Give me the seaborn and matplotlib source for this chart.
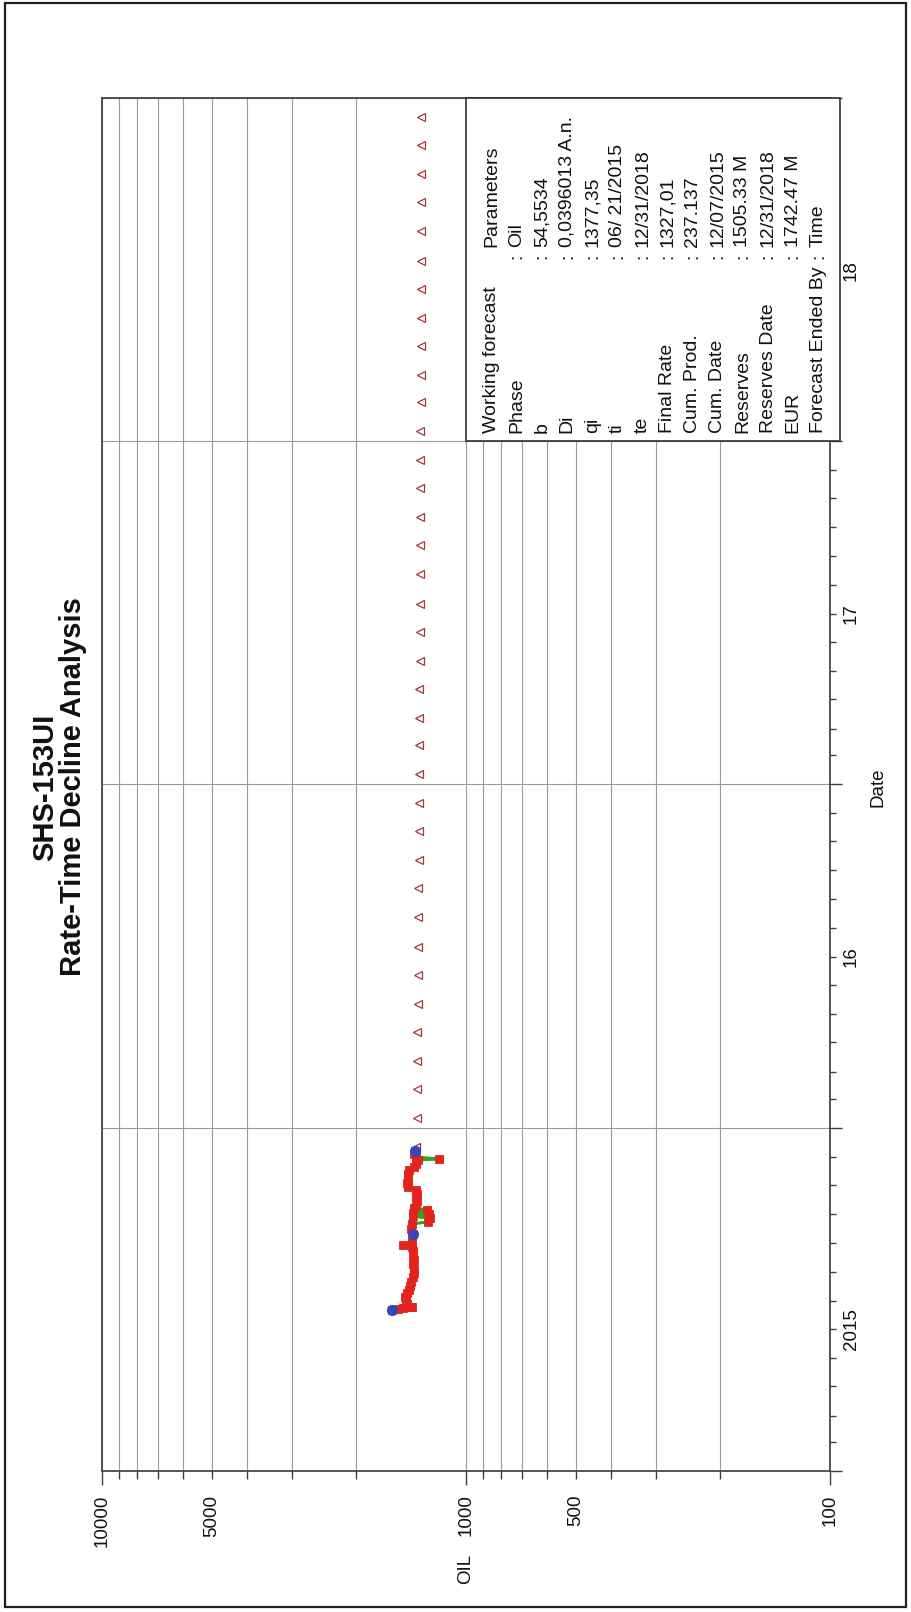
import numpy as np
import pandas as pd
import matplotlib
matplotlib.use("Agg")
import matplotlib.pyplot as plt
import matplotlib.dates as mdates
from matplotlib.ticker import FixedLocator, FuncFormatter, NullFormatter
from matplotlib.patches import Rectangle
from matplotlib.transforms import blended_transform_factory
import seaborn as sns

# ---------------- data ----------------
# daily oil rate history
prod_dates = [
    "2015-06-21", "2015-06-22", "2015-06-23", "2015-06-24", "2015-06-25",
    "2015-06-28", "2015-07-01", "2015-07-05", "2015-07-09", "2015-07-13",
    "2015-07-17", "2015-07-21", "2015-07-26", "2015-07-31", "2015-08-04",
    "2015-08-09", "2015-08-13", "2015-08-18", "2015-08-23", "2015-08-27",
    "2015-08-29", "2015-08-31", "2015-09-04", "2015-09-10", "2015-09-16",
    "2015-09-21", "2015-09-23", "2015-09-27", "2015-09-29", "2015-10-01",
    "2015-10-03", "2015-10-06", "2015-10-08", "2015-10-11", "2015-10-15",
    "2015-10-19", "2015-10-23", "2015-10-27", "2015-10-30", "2015-11-03",
    "2015-11-08", "2015-11-13", "2015-11-17", "2015-11-20", "2015-11-24",
    "2015-11-28", "2015-11-29", "2015-12-01", "2015-12-04", "2015-12-07",
]
prod_rates = [
    1597, 1538, 1490, 1425, 1407,
    1452, 1462, 1471, 1452, 1434,
    1425, 1416, 1398, 1389, 1389,
    1398, 1389, 1398, 1398, 1407,
    1490, 1407, 1407, 1398, 1416,
    1407, 1272, 1256, 1398, 1264,
    1398, 1279, 1389, 1372, 1363,
    1372, 1363, 1372, 1443, 1452,
    1443, 1443, 1434, 1389, 1372,
    1354, 1186, 1372, 1389, 1380,
]
# highlighted history points
pick_dates = ["2015-06-21", "2015-09-10", "2015-12-07"]
pick_rates = [1597, 1398, 1380]

# working forecast, one point per month
fc_dates = pd.date_range("2015-12-01", "2018-12-01", freq="MS") + pd.Timedelta(days=11)
fc_rates = [
    1370, 1367, 1364, 1362, 1360, 1358, 1356, 1354, 1353, 1351,
    1350, 1348, 1347, 1346, 1345, 1343, 1342, 1341, 1340, 1339,
    1338, 1337, 1336, 1335, 1334, 1334, 1333, 1332, 1331, 1331,
    1330, 1329, 1329, 1328, 1328, 1327, 1327,
]

oil_major = [100, 1000, 10000]
oil_minor = [200, 300, 400, 500, 600, 700, 800, 900,
             2000, 3000, 4000, 5000, 6000, 7000, 8000, 9000]
oil_labels = {100: "100", 500: "500", 1000: "1000", 5000: "5000", 10000: "10000"}
year_labels = {2015: "2015", 2016: "16", 2017: "17", 2018: "18"}

param_names = ["Working forecast", "Phase", "b", "Di", "qi", "ti", "te",
               "Final Rate", "Cum. Prod.", "Cum. Date", "Reserves",
               "Reserves Date", "EUR", "Forecast Ended By"]
param_values = ["Parameters", "Oil", "54,5534", "0,0396013 A.n.", "1377,35",
                "06/ 21/2015", "12/31/2018", "1327,01", "237.137",
                "12/07/2015", "1505.33 M", "12/31/2018", "1742.47 M", "Time"]

title = "SHS-153UI"
subtitle = "Rate-Time Decline Analysis"

# ---------------- style ----------------
sns.set_theme(style="white")
plt.rcParams["font.family"] = ["Liberation Sans", "DejaVu Sans"]

W, H = 912, 1612
fig = plt.figure(figsize=(W / 100, H / 100), dpi=100)
fig.patch.set_facecolor("white")


def fx(px):
    return px / W


def fy(py):
    return 1 - py / H


AX_L, AX_R, AX_T, AX_B = 102, 830, 98, 1471
ax = fig.add_axes([fx(AX_L), fy(AX_B), (AX_R - AX_L) / W, (AX_B - AX_T) / H])
ax.set_facecolor("white")
ax.set_xscale("log")

df_prod = pd.DataFrame({"date": pd.to_datetime(prod_dates), "rate": prod_rates})
df_pick = pd.DataFrame({"date": pd.to_datetime(pick_dates), "rate": pick_rates})
df_fc = pd.DataFrame({"date": fc_dates, "rate": fc_rates})

sns.lineplot(data=df_prod, x="rate", y="date", sort=False, estimator=None,
             color="#2aa52a", lw=2.2, ax=ax, zorder=3)
sns.lineplot(data=df_prod, x="rate", y="date", sort=False, estimator=None,
             color="#e3241c", ls="", marker="s", ms=5.8, mec="#e3241c",
             mew=0.6, ax=ax, zorder=4)
sns.lineplot(data=df_pick, x="rate", y="date", sort=False, estimator=None,
             color="#3548b5", ls="", marker="o", ms=7.4, mec="#3548b5",
             mew=0.6, ax=ax, zorder=5)
sns.lineplot(data=df_fc, x="rate", y="date", sort=False, estimator=None,
             color="#9c3a3a", ls="", marker="<", ms=6, mfc="none",
             mec="#9c3a3a", mew=0.9, ax=ax, zorder=4)

ax.set_xlim(10000, 100)
y0, y1 = pd.Timestamp("2015-01-01"), pd.Timestamp("2019-01-01")
ax.set_ylim(y0, y1)
ax.set_xlabel("")
ax.set_ylabel("")

# OIL axis (log, decreasing to the right)
ax.xaxis.set_major_locator(FixedLocator(oil_major))
ax.xaxis.set_minor_locator(FixedLocator(oil_minor))
ax.xaxis.set_major_formatter(FuncFormatter(lambda v, p: oil_labels.get(int(round(v)), "")))
ax.xaxis.set_minor_formatter(FuncFormatter(lambda v, p: oil_labels.get(int(round(v)), "")))

# Date axis on the right: yearly grid, monthly ticks, year names mid-year
ax.yaxis.tick_right()
ax.yaxis.set_major_locator(mdates.YearLocator())
ax.yaxis.set_minor_locator(mdates.MonthLocator())
ax.yaxis.set_major_formatter(NullFormatter())


def year_fmt(v, pos):
    d = mdates.num2date(v)
    if d.year == 2015 and d.month == 6:
        return year_labels[2015]
    if d.year > 2015 and d.month == 7 and d.year in year_labels:
        return year_labels[d.year]
    return ""


ax.yaxis.set_minor_formatter(FuncFormatter(year_fmt))

grid_kw = dict(color="#9a9a9a", lw=0.8)
ax.grid(True, which="both", axis="x", **grid_kw)
ax.grid(True, which="major", axis="y", **grid_kw)
ax.grid(False, which="minor", axis="y")

tick_col = "#404040"
ax.tick_params(axis="x", which="major", direction="out", length=10, width=1,
               color=tick_col, labelsize=13.5, labelrotation=90, pad=7,
               bottom=True, top=False, labelcolor="#111111")
ax.tick_params(axis="x", which="minor", direction="out", length=5.8, width=1,
               color=tick_col, labelsize=13.5, labelrotation=90, pad=11.3,
               bottom=True, top=False, labelcolor="#111111")
ax.tick_params(axis="y", which="major", direction="out", length=8.6, width=1,
               color=tick_col, right=True, left=False, labelright=False,
               labelleft=False)
ax.tick_params(axis="y", which="minor", direction="out", length=4.3, width=1,
               color=tick_col, right=True, left=False, labelright=True,
               labelleft=False, labelsize=13.5, labelrotation=90, pad=5,
               labelcolor="#111111")
plt.setp(ax.get_yticklabels(minor=True), va="center")

for s in ax.spines.values():
    s.set_color("#3a3a3a")
    s.set_linewidth(1.2)
    s.set_visible(True)

# parameters panel
ytr = blended_transform_factory(ax.transAxes, ax.transData)
yb = mdates.date2num(pd.Timestamp("2018-01-01"))
yt = mdates.date2num(y1)
ax.add_patch(Rectangle((0.5, yb), (840 - AX_L) / (AX_R - AX_L) - 0.5, yt - yb,
                       transform=ytr, facecolor="white", edgecolor="#303030",
                       lw=1.2, clip_on=False, zorder=10))

row_x0, row_dx = 492, 25.1
for i, (name, val) in enumerate(zip(param_names, param_values)):
    x = fx(row_x0 + row_dx * i)
    fig.text(x, fy(433), name, rotation=90, rotation_mode="anchor",
             ha="left", va="center", fontsize=14, color="#111111", zorder=11)
    fig.text(x, fy(247), val, rotation=90, rotation_mode="anchor",
             ha="left", va="center", fontsize=14, color="#111111", zorder=11)
    if i > 0:
        fig.text(x, fy(259), ":", rotation=90, rotation_mode="anchor",
                 ha="left", va="center", fontsize=14, color="#111111", zorder=11)

# titles and axis names
fig.text(fx(45), fy(787), title, rotation=90, ha="center", va="center",
         fontsize=21, fontweight="bold", color="#111111")
fig.text(fx(73), fy(787), subtitle, rotation=90, ha="center", va="center",
         fontsize=21, fontweight="bold", color="#111111")
fig.text(fx(466), fy(1569), "OIL", rotation=90, ha="center", va="center",
         fontsize=13.5, color="#111111")
fig.text(fx(878), fy(787), "Date", rotation=90, ha="center", va="center",
         fontsize=13.5, color="#111111")

# outer frame
fig.add_artist(Rectangle((fx(5), fy(1607)), (906 - 5) / W, (1607 - 3) / H,
                         transform=fig.transFigure, fill=False,
                         edgecolor="#202020", lw=1.6))

fig.savefig("out.png", dpi=100)
